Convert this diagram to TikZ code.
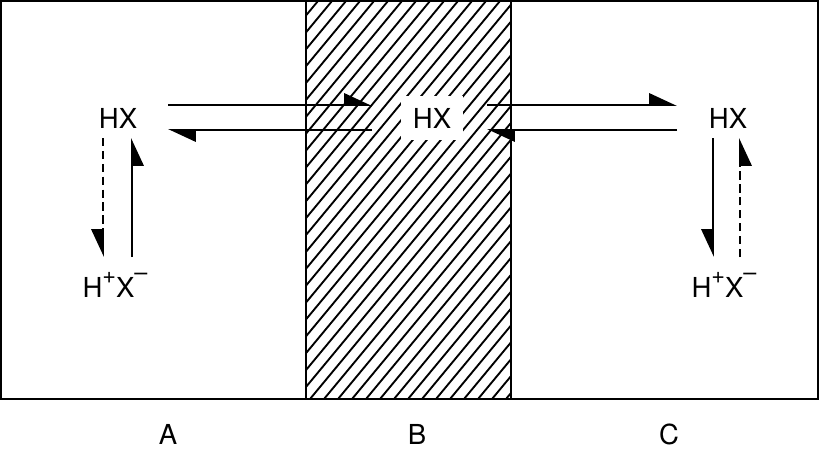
\documentclass[tikz,border=0pt]{standalone}
\usepackage{fontspec}
\setmainfont{TeX Gyre Heros}
\usetikzlibrary{arrows.meta}
\tikzset{
  harp/.style = {-{Triangle[harpoon,length=22pt,width=20pt]}},
  harpsw/.style = {-{Triangle[harpoon,swap,length=22pt,width=20pt]}},
  lbl/.style = {font=\fontsize{23.5}{28}\selectfont, inner sep=0pt, anchor=base}
}
\newcommand{\chgp}{\raisebox{11.5pt}{\fontsize{20}{20}\selectfont +}}
\newcommand{\chgm}{\raisebox{14pt}{\fontsize{20}{20}\selectfont –}}

\begin{document}
\begin{tikzpicture}[x=0.03cm,y=-0.03cm,line width=1.6pt]
  \useasboundingbox (0,0) rectangle (819,449);
  % hatched membrane
  \begin{scope}
    \clip (306,1) rectangle (511,399);
    \foreach \i in {-40,-26,...,520}
      \draw[line width=1.6pt] (\i,399) -- ++(330,-398);
  \end{scope}
  \draw (1,1) rectangle (818,399);
  \draw (306,1) -- (306,399);
  \draw (511,1) -- (511,399);
  % species
  \node[lbl] (hxA) at (118,128) {HX};
  \node[lbl,fill=white,inner sep=10pt] (hxB) at (432,128) {HX};
  \node[lbl] (hxC) at (728,128) {HX};
  \node[lbl] (ionA) at (115,297) {H\chgp X\chgm};
  \node[lbl] (ionC) at (724,297) {H\chgp X\chgm};
  \node[lbl] (A) at (168,444) {A};
  \node[lbl] (B) at (417,444) {B};
  \node[lbl] (C) at (669,444) {C};
  % arrow ends
  \coordinate (a1) at (168,105); \coordinate (b1) at (372,105);
  \coordinate (a2) at (168,130); \coordinate (b2) at (372,130);
  \coordinate (b3) at (487,105); \coordinate (c3) at (677,105);
  \coordinate (b4) at (487,130); \coordinate (c4) at (677,130);
  \coordinate (aU1) at (103,138); \coordinate (aD1) at (103,257);
  \coordinate (aU2) at (132,138); \coordinate (aD2) at (132,257);
  \coordinate (cU1) at (713,138); \coordinate (cD1) at (713,257);
  \coordinate (cU2) at (740,138); \coordinate (cD2) at (740,257);
  % transport
  \draw[harp] (a1) -- (b1);
  \draw[harp] (b2) -- (a2);
  \draw[harp] (b3) -- (c3);
  \draw[harp] (c4) -- (b4);
  % dissociation
  \draw[harpsw,dash pattern=on 7pt off 4pt] (aU1) -- (aD1);
  \draw[harpsw] (aD2) -- (aU2);
  \draw[harpsw] (cU1) -- (cD1);
  \draw[harpsw,dash pattern=on 7pt off 4pt] (cD2) -- (cU2);
\end{tikzpicture}
\end{document}
